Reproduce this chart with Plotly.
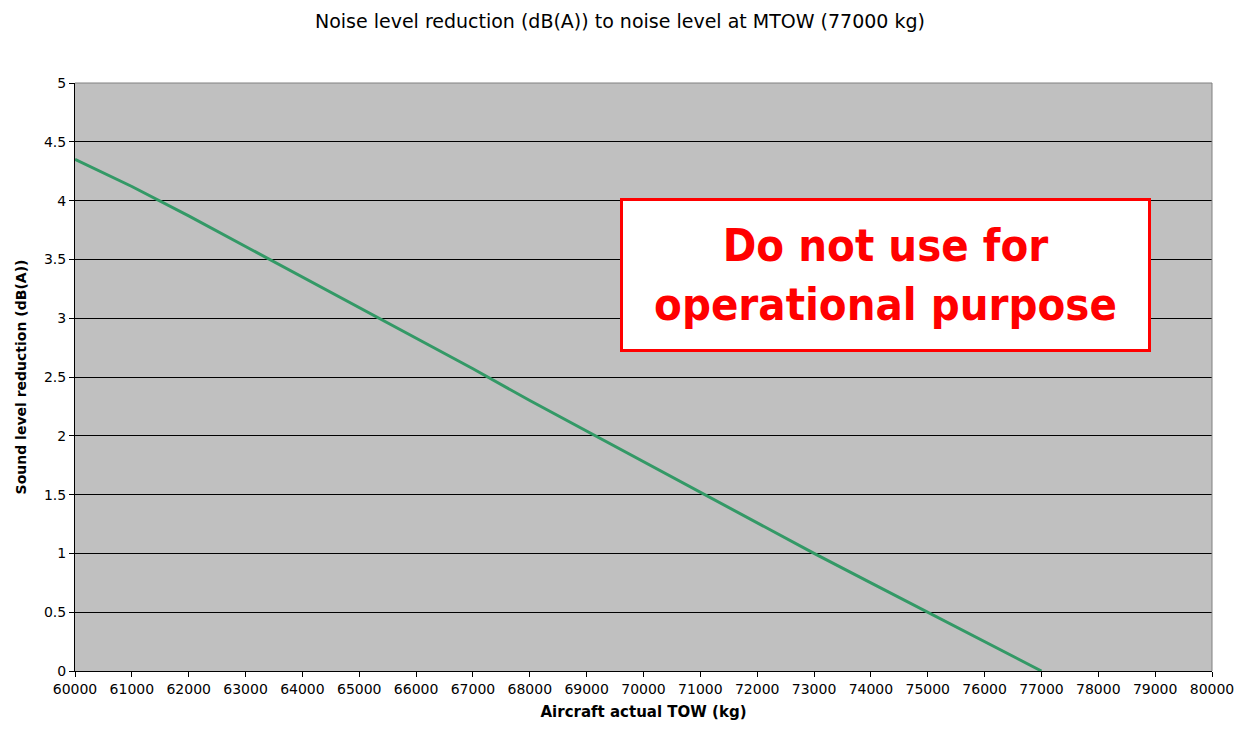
import plotly.graph_objects as go

# === DATA ===
tow_kg = [60000, 61000, 62000, 63000, 64000, 65000, 66000, 67000, 68000,
          69000, 70000, 71000, 72000, 73000, 74000, 75000, 76000, 77000]
reduction_db = [4.35, 4.12, 3.87, 3.61, 3.35, 3.09, 2.83, 2.57, 2.30,
                2.04, 1.78, 1.52, 1.26, 1.00, 0.75, 0.50, 0.25, 0.0]

x_ticks = list(range(60000, 80001, 1000))
y_ticks = [0, 0.5, 1, 1.5, 2, 2.5, 3, 3.5, 4, 4.5, 5]

font = 'DejaVu Sans, Arial, sans-serif'

fig = go.Figure()
fig.add_trace(go.Scatter(
    x=tow_kg, y=reduction_db, mode='lines',
    line=dict(color='#339966', width=3),
    showlegend=False
))

# warning box
fig.add_annotation(
    xref='paper', yref='paper', x=0.7125, y=0.673,
    xanchor='center', yanchor='middle',
    text='Do not use for<br>operational purpose',
    showarrow=False, align='center',
    font=dict(family='DejaVu Sans Condensed, Liberation Sans Narrow, Liberation Sans, sans-serif',
              size=45, color='#FF0000', weight='bold'),
    bgcolor='white', bordercolor='#FF0000', borderwidth=3,
    width=523, height=146
)

fig.update_layout(
    width=1240, height=730,
    title=dict(text='Noise level reduction (dB(A)) to noise level at MTOW (77000 kg)',
               x=0.4935, xanchor='center', y=0.982, yanchor='middle',
               font=dict(family=font, size=19, color='black')),
    paper_bgcolor='white', plot_bgcolor='#C0C0C0',
    margin=dict(l=63, r=36, t=75, b=67),
    font=dict(family=font, size=14, color='black'),
    xaxis=dict(
        range=[60000, 80000], tickvals=x_ticks, ticktext=[str(v) for v in x_ticks],
        showgrid=False, zeroline=False, showline=True, linecolor='black', linewidth=1,
        ticks='outside', ticklen=5, tickcolor='black',
        title=dict(text='<b>Aircraft actual TOW (kg)</b>', standoff=10,
                   font=dict(size=15))
    ),
    yaxis=dict(
        range=[0, 5], tickvals=y_ticks, ticktext=[f'{v:g}' for v in y_ticks],
        showgrid=True, gridcolor='black', gridwidth=1, zeroline=False,
        showline=True, linecolor='black', linewidth=1,
        ticks='outside', ticklen=5, tickcolor='black',
        title=dict(text='<b>Sound level reduction (dB(A))</b>', standoff=14,
                   font=dict(size=14))
    )
)

# gray border on top and right of the plot area
fig.add_shape(type='path', xref='paper', yref='paper', path='M 0,1 L 1,1 L 1,0',
              line=dict(color='#808080', width=1), layer='above')

fig.write_html("out.html")
